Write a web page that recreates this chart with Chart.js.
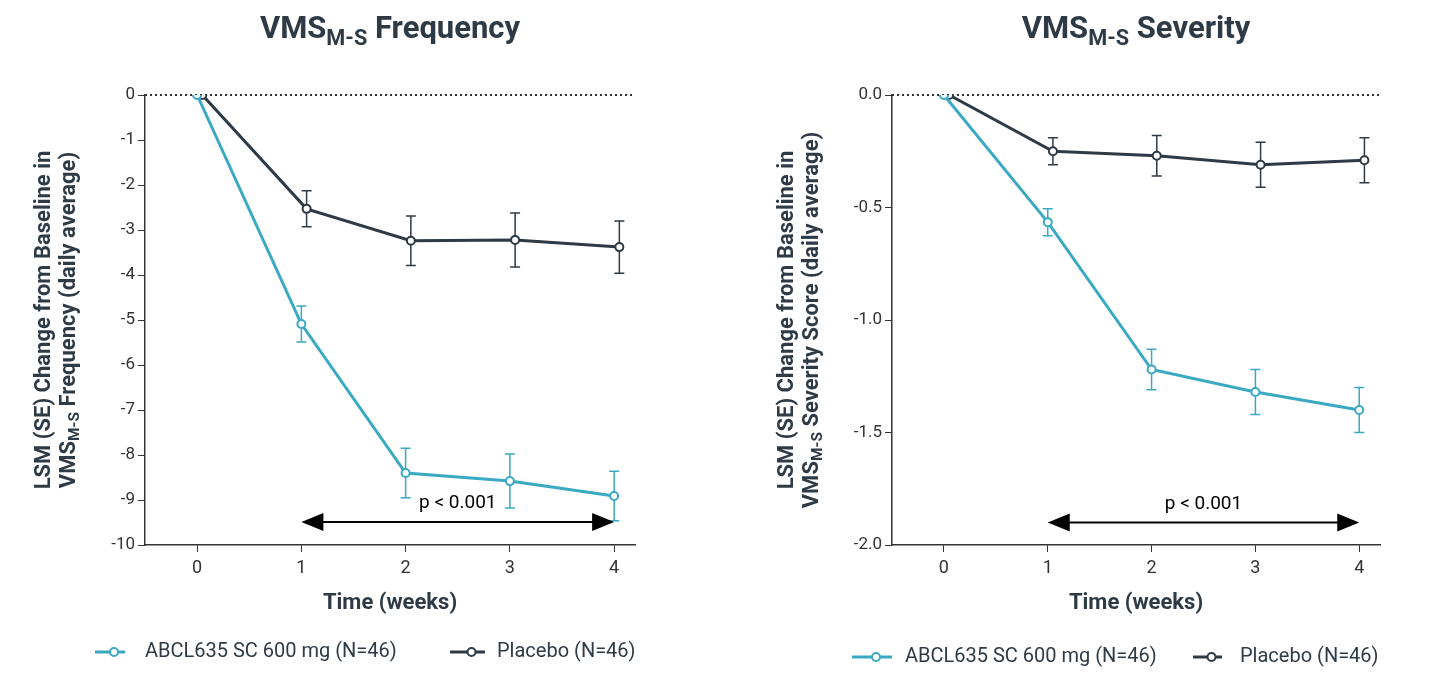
<!DOCTYPE html>
<html>
<head>
<script src="https://cdn.jsdelivr.net/npm/chart.js@4"></script>
<style>
  body { margin: 0; background: #fff; }
  .box { position: absolute; top: 0; width: 728px; height: 696px; }
</style>
</head>
<body>
<div class="box" style="left:0"><canvas id="freq"></canvas></div>
<div class="box" style="left:728px"><canvas id="sev"></canvas></div>
<script>
const weeks = [0, 1, 2, 3, 4];
const freqDrug = [0, -5.09, -8.4, -8.58, -8.91];
const freqDrugSE = [0, 0.4, 0.55, 0.6, 0.55];
const freqPlacebo = [0, -2.53, -3.24, -3.22, -3.38];
const freqPlaceboSE = [0, 0.4, 0.55, 0.6, 0.58];
const sevDrug = [0, -0.565, -1.22, -1.32, -1.40];
const sevDrugSE = [0, 0.06, 0.09, 0.1, 0.1];
const sevPlacebo = [0, -0.25, -0.27, -0.31, -0.29];
const sevPlaceboSE = [0, 0.06, 0.09, 0.1, 0.1];
const drugLabel = 'ABCL635 SC 600 mg (N=46)';
const placeboLabel = 'Placebo (N=46)';

const TEAL = '#3aa9c3', DARK = '#2e3a45', TXT = '#2e3a45';
const FONT = 'Roboto, "Open Sans", sans-serif';

function makeChart(id, o) {
  const pts = (vals, dx) => weeks.map((w, i) => ({ x: w + dx, y: vals[i] }));
  const ds = (label, vals, se, dx, color) => ({
    label, data: pts(vals, dx), se, borderColor: color, backgroundColor: '#fff',
    borderWidth: 3, pointRadius: 4, pointBorderWidth: 2, pointHoverRadius: 4
  });
  const plug = {
    id: 'custom',
    beforeDatasetsDraw(chart) {
      const { ctx, scales: { x, y }, chartArea: a } = chart;
      ctx.save();
      ctx.strokeStyle = '#333'; ctx.lineWidth = 2; ctx.setLineDash([2, 3]);
      ctx.beginPath(); ctx.moveTo(a.left, y.getPixelForValue(0)); ctx.lineTo(a.right, y.getPixelForValue(0)); ctx.stroke();
      ctx.setLineDash([]);
      chart.data.datasets.forEach(d => {
        ctx.strokeStyle = d.borderColor; ctx.lineWidth = 1.5;
        d.data.forEach((p, i) => {
          if (!d.se[i]) return;
          const px = x.getPixelForValue(p.x), t = y.getPixelForValue(p.y + d.se[i]), b = y.getPixelForValue(p.y - d.se[i]);
          ctx.beginPath();
          ctx.moveTo(px, t); ctx.lineTo(px, b);
          ctx.moveTo(px - 5, t); ctx.lineTo(px + 5, t);
          ctx.moveTo(px - 5, b); ctx.lineTo(px + 5, b);
          ctx.stroke();
        });
      });
      ctx.restore();
    },
    afterDraw(chart) {
      const { ctx, scales: { x, y }, chartArea: a } = chart;
      ctx.save();
      const ay = y.getPixelForValue(o.arrowY), x1 = x.getPixelForValue(1), x4 = x.getPixelForValue(4);
      ctx.strokeStyle = '#000'; ctx.fillStyle = '#000'; ctx.lineWidth = 2;
      ctx.beginPath(); ctx.moveTo(x1 + 10, ay); ctx.lineTo(x4 - 10, ay); ctx.stroke();
      [[x1, 1], [x4, -1]].forEach(([px, s]) => {
        ctx.beginPath(); ctx.moveTo(px, ay); ctx.lineTo(px + s * 22, ay - 9); ctx.lineTo(px + s * 22, ay + 9); ctx.closePath(); ctx.fill();
      });
      ctx.font = '19px ' + FONT; ctx.textAlign = 'center'; ctx.textBaseline = 'middle';
      ctx.fillText('p < 0.001', x.getPixelForValue(2.5), y.getPixelForValue(o.pY));
      const drawSub = (parts, cx, cy, size, bold) => {
        const f = s => (bold ? 'bold ' : '') + s + 'px ' + FONT;
        let w = 0;
        parts.forEach(p => { ctx.font = f(p.sub ? size * 0.7 : size); w += ctx.measureText(p.t).width; });
        let px = cx - w / 2;
        ctx.textAlign = 'left'; ctx.textBaseline = 'middle';
        parts.forEach(p => {
          ctx.font = f(p.sub ? size * 0.7 : size);
          ctx.fillText(p.t, px, cy + (p.sub ? size * 0.3 : 0));
          px += ctx.measureText(p.t).width;
        });
      };
      ctx.fillStyle = TXT;
      drawSub([{ t: 'VMS' }, { t: 'M-S', sub: true }, { t: ' ' + o.title }], (a.left + a.right) / 2, 30, 31, true);
      drawSub([{ t: 'Time (weeks)' }], (a.left + a.right) / 2, 603, 22, true);
      ctx.translate(o.yLabelX, (a.top + a.bottom) / 2);
      ctx.rotate(-Math.PI / 2);
      drawSub([{ t: 'LSM (SE) Change from Baseline in' }], 0, -13, 22, true);
      drawSub([{ t: 'VMS' }, { t: 'M-S', sub: true }, { t: ' ' + o.yLabel2 }], 0, 12, 22, true);
      ctx.setTransform(chart.currentDevicePixelRatio, 0, 0, chart.currentDevicePixelRatio, 0, 0);
      ctx.font = '20px ' + FONT; ctx.textAlign = 'left'; ctx.textBaseline = 'middle';
      o.legend.forEach(l => {
        ctx.strokeStyle = l.c; ctx.lineWidth = 3;
        ctx.beginPath(); ctx.moveTo(l.x0, o.legY); ctx.lineTo(l.x1, o.legY); ctx.stroke();
        ctx.fillStyle = '#fff'; ctx.lineWidth = 2;
        ctx.beginPath(); ctx.arc((l.x0 + l.x1) / 2 + 4, o.legY, 4, 0, Math.PI * 2); ctx.fill(); ctx.stroke();
        ctx.fillStyle = TXT; ctx.fillText(l.t, l.tx, o.legY);
      });
      ctx.restore();
    }
  };
  new Chart(document.getElementById(id), {
    type: 'line',
    data: { datasets: [ds(drugLabel, o.drug, o.drugSE, 0, TEAL), ds(placeboLabel, o.plac, o.placSE, 0.05, DARK)] },
    options: {
      responsive: true, maintainAspectRatio: false, animation: false,
      layout: { padding: { left: 0, top: 95, right: o.padRight, bottom: 0 } },
      plugins: { legend: { display: false }, tooltip: { enabled: false } },
      scales: {
        x: {
          type: 'linear', min: -0.5, max: 4.2,
          afterBuildTicks: s => { s.ticks = weeks.map(v => ({ value: v })); },
          afterFit: s => { s.height = 151; },
          border: { color: '#333', width: 1.5 },
          grid: { drawOnChartArea: false, tickLength: 7, color: '#333' },
          ticks: { color: '#333', font: { size: 18, family: FONT }, padding: 6 }
        },
        y: {
          min: o.min, max: 0,
          afterFit: s => { s.width = o.yWidth; },
          border: { color: '#333', width: 1.5 },
          grid: { drawOnChartArea: false, tickLength: 7, color: '#333' },
          ticks: { stepSize: o.step, color: '#333', font: { size: 17, family: FONT }, callback: o.fmt }
        }
      }
    },
    plugins: [plug]
  });
}

makeChart('freq', {
  title: 'Frequency', yLabel2: 'Frequency (daily average)', yLabelX: 57,
  drug: freqDrug, drugSE: freqDrugSE, plac: freqPlacebo, placSE: freqPlaceboSE,
  min: -10, step: 1, fmt: v => String(v), yWidth: 145, padRight: 93,
  arrowY: -9.49, pY: -9.07, legY: 652,
  legend: [{ x0: 95, x1: 125, tx: 145, t: drugLabel, c: TEAL }, { x0: 450, x1: 485, tx: 497, t: placeboLabel, c: DARK }]
});
makeChart('sev', {
  title: 'Severity', yLabel2: 'Severity Score (daily average)', yLabelX: 72,
  drug: sevDrug, drugSE: sevDrugSE, plac: sevPlacebo, placSE: sevPlaceboSE,
  min: -2, step: 0.5, fmt: v => Number(v).toFixed(1), yWidth: 164, padRight: 76,
  arrowY: -1.9, pY: -1.82, legY: 657,
  legend: [{ x0: 124, x1: 164, tx: 177, t: drugLabel, c: TEAL }, { x0: 465, x1: 494, tx: 512, t: placeboLabel, c: DARK }]
});
</script>
</body>
</html>
